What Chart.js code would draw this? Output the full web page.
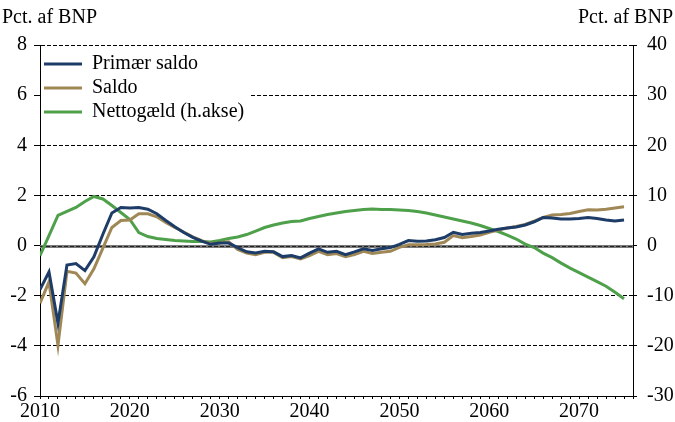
<!DOCTYPE html>
<html>
<head>
<meta charset="utf-8">
<script src="https://cdn.jsdelivr.net/npm/chart.js@4"></script>
<style>
  html, body { margin: 0; padding: 0; background: #fff; }
  #wrap { width: 675px; height: 422px; }
</style>
</head>
<body>
<div id="wrap"><canvas id="grafico"></canvas></div>
<script>
// Årstal 2010-2075
var aar = [2010,2011,2012,2013,2014,2015,2016,2017,2018,2019,
  2020,2021,2022,2023,2024,2025,2026,2027,2028,2029,
  2030,2031,2032,2033,2034,2035,2036,2037,2038,2039,
  2040,2041,2042,2043,2044,2045,2046,2047,2048,2049,
  2050,2051,2052,2053,2054,2055,2056,2057,2058,2059,
  2060,2061,2062,2063,2064,2065,2066,2067,2068,2069,
  2070,2071,2072,2073,2074,2075];

// Primær saldo, pct. af BNP (venstre akse)
var primaerSaldo = [-1.75,-1.05,-3.1,-0.78,-0.72,-1.0,-0.45,0.45,1.3,1.52,
  1.5,1.52,1.45,1.27,1.0,0.75,0.52,0.33,0.18,0.05,
  0.1,0.1,-0.08,-0.25,-0.3,-0.23,-0.25,-0.44,-0.4,-0.49,
  -0.3,-0.13,-0.27,-0.23,-0.36,-0.25,-0.13,-0.2,-0.13,-0.08,
  0.05,0.2,0.17,0.18,0.23,0.32,0.53,0.44,0.49,0.52,
  0.58,0.65,0.7,0.74,0.82,0.95,1.12,1.1,1.06,1.06,
  1.08,1.12,1.08,1.02,0.98,1.02];

// Saldo, pct. af BNP (venstre akse)
var saldo = [-2.3,-1.45,-3.98,-1.03,-1.1,-1.52,-0.93,-0.1,0.72,1.0,
  1.02,1.27,1.27,1.15,0.92,0.72,0.54,0.35,0.2,0.08,
  0.1,0.15,-0.15,-0.3,-0.36,-0.27,-0.27,-0.48,-0.44,-0.53,
  -0.4,-0.23,-0.36,-0.32,-0.44,-0.36,-0.23,-0.32,-0.27,-0.23,
  -0.07,0.03,0.03,0.04,0.06,0.13,0.4,0.31,0.36,0.42,
  0.53,0.62,0.7,0.76,0.84,0.97,1.12,1.22,1.24,1.28,
  1.36,1.43,1.42,1.45,1.5,1.55];

// Nettogæld, pct. af BNP (højre akse)
var nettogaeld = [-2.0,2.0,6.0,6.8,7.6,8.8,9.8,9.3,8.0,6.6,
  5.2,2.6,1.8,1.4,1.2,1.0,0.9,0.8,0.8,0.7,
  1.0,1.4,1.7,2.2,2.9,3.6,4.1,4.5,4.8,4.9,
  5.4,5.8,6.2,6.5,6.8,7.0,7.2,7.3,7.2,7.2,
  7.1,7.0,6.8,6.5,6.1,5.7,5.3,4.9,4.5,4.0,
  3.4,2.8,2.1,1.3,0.3,-0.4,-1.5,-2.4,-3.5,-4.5,
  -5.4,-6.3,-7.2,-8.1,-9.3,-10.6];

var aksetitel = 'Pct. af BNP';
var skrift = 'Liberation Serif, "Times New Roman", serif';

// legenden inde i plotområdet: flyt den ned til plotområdets top
var legendPlacering = {
  id: 'legendPlacering',
  afterLayout: function(chart) {
    var l = chart.legend;
    if (!l) return;
    l.top = chart.chartArea.top + 5;
    l.bottom = chart.chartArea.bottom;
    if (l.adjustHitBoxes) l.adjustHitBoxes();
  }
};

// nul-linje (grå med sorte streger) + hvid baggrund bag legenden
var nulOgLegend = {
  id: 'nulOgLegend',
  beforeDatasetsDraw: function(chart) {
    var ctx = chart.ctx, a = chart.chartArea;
    var y = Math.round(chart.scales.y.getPixelForValue(0)) + 0.5;
    ctx.save();
    ctx.strokeStyle = '#7a7a7a';
    ctx.lineWidth = 3;
    ctx.beginPath();
    ctx.moveTo(a.left, y);
    ctx.lineTo(a.right, y);
    ctx.stroke();
    ctx.strokeStyle = '#222';
    ctx.lineWidth = 1;
    ctx.setLineDash([4, 2]);
    ctx.beginPath();
    ctx.moveTo(a.left, y);
    ctx.lineTo(a.right, y);
    ctx.stroke();
    ctx.restore();

    var l = chart.legend;
    if (!l || !l.legendItems || !l.legendItems.length) return;
    var lab = l.options.labels;
    var start = a.left + lab.padding;
    ctx.save();
    ctx.font = lab.font.size + 'px ' + skrift;
    var bredest = 0;
    l.legendItems.forEach(function(it) {
      bredest = Math.max(bredest, ctx.measureText(it.text).width);
    });
    var x2 = start + lab.boxWidth + lab.font.size / 2 + bredest;
    var y1 = l.top + lab.padding;
    var y2 = y1 + l.legendItems.length * (lab.font.size + lab.padding);
    ctx.fillStyle = '#fff';
    ctx.fillRect(a.left + 1, y1 - 2, x2 - a.left + 4, y2 - y1 + 2);
    ctx.restore();
    l.draw();
  }
};

// aksetitler øverst
var titler = {
  id: 'titler',
  afterDraw: function(chart) {
    var ctx = chart.ctx;
    ctx.save();
    ctx.font = '20px ' + skrift;
    ctx.fillStyle = '#000';
    ctx.textBaseline = 'middle';
    ctx.textAlign = 'left';
    ctx.fillText(aksetitel, 2, 18);
    ctx.textAlign = 'right';
    ctx.fillText(aksetitel, 673, 18);
    ctx.restore();
  }
};

var ctx = document.getElementById('grafico').getContext('2d');
var graf = new Chart(ctx, {
  type: 'line',
  data: {
    labels: aar,
    datasets: [
      { label: 'Primær saldo', data: primaerSaldo, yAxisID: 'y',
        borderColor: '#1D3C68', backgroundColor: '#1D3C68', borderWidth: 3 },
      { label: 'Saldo', data: saldo, yAxisID: 'y',
        borderColor: '#A08856', backgroundColor: '#A08856', borderWidth: 3 },
      { label: 'Nettogæld (h.akse)', data: nettogaeld, yAxisID: 'y2',
        borderColor: '#4FA04A', backgroundColor: '#4FA04A', borderWidth: 3 }
    ]
  },
  options: {
    responsive: true,
    maintainAspectRatio: false,
    animation: false,
    elements: { point: { radius: 0 }, line: { tension: 0 } },
    layout: { padding: { top: 45, left: 0, right: 0, bottom: 0 } },
    plugins: {
      legend: {
        position: 'chartArea',
        align: 'start',
        labels: {
          boxWidth: 38,
          boxHeight: 3,
          padding: 4,
          color: '#000',
          font: { family: skrift, size: 20 },
          generateLabels: function(chart) {
            return Chart.defaults.plugins.legend.labels.generateLabels(chart).map(function(it) {
              it.lineWidth = 0;
              return it;
            });
          }
        }
      },
      tooltip: { enabled: false }
    },
    scales: {
      x: {
        type: 'linear',
        min: 2010,
        max: 2076,
        afterFit: function(s) { s.height = 26; },
        afterBuildTicks: function(s) {
          s.ticks = aar.concat([2076]).map(function(v) { return { value: v }; });
        },
        ticks: {
          autoSkip: false,
          maxRotation: 0,
          padding: 1,
          color: '#000',
          font: { family: skrift, size: 20 },
          callback: function(v) { return v % 10 === 0 ? String(v) : ''; }
        },
        grid: { drawOnChartArea: false, tickLength: 3, color: '#000' },
        border: { color: '#000', width: 1 }
      },
      y: {
        position: 'left',
        min: -6,
        max: 8,
        afterFit: function(s) { s.width = 40; },
        ticks: {
          stepSize: 2,
          padding: 7,
          color: '#000',
          font: { family: skrift, size: 20 }
        },
        grid: { color: '#000', lineWidth: 1, tickLength: 6 },
        border: { color: '#000', width: 1, dash: [4, 2] }
      },
      y2: {
        position: 'right',
        min: -30,
        max: 40,
        afterFit: function(s) { s.width = 42; },
        ticks: {
          stepSize: 10,
          padding: 10,
          color: '#000',
          font: { family: skrift, size: 20 }
        },
        grid: { drawOnChartArea: false, color: '#000', tickLength: 4 },
        border: { color: '#000', width: 1 }
      }
    }
  },
  plugins: [legendPlacering, nulOgLegend, titler]
});
</script>
</body>
</html>
